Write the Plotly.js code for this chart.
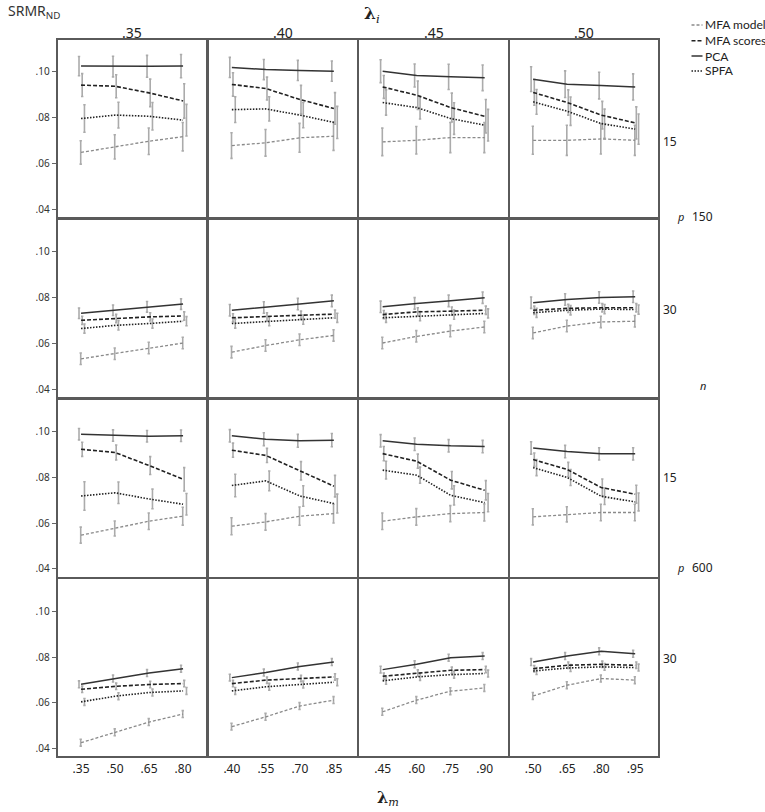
<!DOCTYPE html>
<html>
<head>
<meta charset="utf-8">
<script src="https://cdn.plot.ly/plotly-3.0.1.min.js"></script>
<style>html,body{margin:0;padding:0;background:#fff}#chart{width:765px;height:812px}</style>
</head>
<body>
<div id="chart"></div>
<script>
// ---- data ----
const lambdaIHeaders = ['.35', '.40', '.45', '.50'];
const lambdaM = [
  [0.35, 0.50, 0.65, 0.80],
  [0.40, 0.55, 0.70, 0.85],
  [0.45, 0.60, 0.75, 0.90],
  [0.50, 0.65, 0.80, 0.95]
];
const seriesNames = ['MFA model', 'MFA scores', 'PCA', 'SPFA'];
// rows: (n=150,p=15), (n=150,p=30), (n=600,p=15), (n=600,p=30); each row: 4 columns (lambda_i)
const mfaModel = [
  [[.0648,.0672,.0697,.0717],[.0678,.0690,.0712,.0719],[.0694,.0701,.0713,.0713],[.0701,.0701,.0707,.0701]],
  [[.0532,.0554,.0579,.0601],[.0561,.0590,.0615,.0634],[.0601,.0630,.0653,.0671],[.0645,.0675,.0693,.0696]],
  [[.0547,.0576,.0608,.0630],[.0586,.0605,.0630,.0641],[.0608,.0627,.0641,.0646],[.0627,.0638,.0646,.0646]],
  [[.0426,.0471,.0516,.0551],[.0496,.0539,.0586,.0612],[.0561,.0612,.0651,.0665],[.0630,.0677,.0706,.0699]]
];
const mfaScores = [
  [[.0942,.0937,.0908,.0873],[.0945,.0927,.0879,.0840],[.0934,.0898,.0844,.0806],[.0910,.0866,.0811,.0777]],
  [[.0700,.0708,.0715,.0719],[.0711,.0715,.0722,.0727],[.0725,.0737,.0740,.0744],[.0744,.0752,.0755,.0755]],
  [[.0922,.0908,.0851,.0791],[.0918,.0895,.0828,.0761],[.0903,.0870,.0787,.0743],[.0877,.0834,.0755,.0726]],
  [[.0659,.0672,.0680,.0684],[.0684,.0699,.0706,.0713],[.0716,.0730,.0742,.0745],[.0749,.0764,.0768,.0764]]
];
const pca = [
  [[.1025,.1023,.1024,.1025],[.1019,.1010,.1006,.1003],[.1003,.0984,.0978,.0974],[.0968,.0946,.0940,.0934]],
  [[.0731,.0744,.0759,.0771],[.0744,.0756,.0771,.0785],[.0759,.0774,.0785,.0799],[.0777,.0791,.0800,.0803]],
  [[.0988,.0982,.0979,.0981],[.0981,.0966,.0959,.0962],[.0959,.0944,.0937,.0934],[.0928,.0912,.0902,.0902]],
  [[.0681,.0706,.0730,.0749],[.0710,.0732,.0759,.0778],[.0745,.0768,.0797,.0804],[.0778,.0804,.0825,.0814]]
];
const spfa = [
  [[.0796,.0811,.0806,.0789],[.0835,.0838,.0811,.0779],[.0866,.0844,.0796,.0767],[.0869,.0828,.0774,.0750]],
  [[.0664,.0678,.0686,.0696],[.0686,.0696,.0703,.0711],[.0711,.0718,.0725,.0730],[.0733,.0744,.0749,.0747]],
  [[.0718,.0732,.0705,.0682],[.0764,.0784,.0718,.0685],[.0831,.0809,.0721,.0689],[.0842,.0799,.0717,.0692]],
  [[.0604,.0629,.0645,.0652],[.0652,.0670,.0680,.0690],[.0696,.0713,.0723,.0728],[.0739,.0752,.0757,.0754]]
];
// half-widths of the error bars
const mfaModelErr = [
  [[.0051,.0053,.0058,.0062],[.0056,.0058,.0063,.0062],[.0060,.0060,.0066,.0066],[.0061,.0066,.0066,.0066]],
  [[.0025,.0025,.0025,.0025],[.0025,.0025,.0025,.0025],[.0025,.0025,.0025,.0025],[.0025,.0025,.0025,.0025]],
  [[.0035,.0033,.0036,.0039],[.0037,.0036,.0040,.0041],[.0036,.0036,.0035,.0037],[.0035,.0033,.0036,.0036]],
  [[.0015,.0015,.0015,.0015],[.0015,.0015,.0015,.0015],[.0015,.0015,.0015,.0015],[.0015,.0015,.0015,.0015]]
];
const mfaScoresErr = [
  [[.0050,.0050,.0060,.0075],[.0051,.0050,.0062,.0069],[.0050,.0062,.0063,.0073],[.0056,.0055,.0060,.0070]],
  [[.0018,.0018,.0018,.0018],[.0018,.0018,.0018,.0018],[.0018,.0018,.0018,.0018],[.0018,.0018,.0018,.0018]],
  [[.0031,.0033,.0039,.0051],[.0031,.0031,.0040,.0047],[.0031,.0031,.0038,.0042],[.0029,.0031,.0037,.0039]],
  [[.0014,.0014,.0014,.0014],[.0014,.0014,.0014,.0014],[.0014,.0014,.0014,.0014],[.0014,.0014,.0014,.0014]]
];
const pcaErr = [
  [[.0042,.0045,.0048,.0051],[.0044,.0044,.0044,.0044],[.0050,.0050,.0055,.0056],[.0054,.0058,.0058,.0057]],
  [[.0023,.0023,.0023,.0023],[.0025,.0025,.0025,.0025],[.0025,.0025,.0025,.0025],[.0025,.0025,.0025,.0025]],
  [[.0025,.0025,.0025,.0025],[.0027,.0028,.0028,.0029],[.0027,.0027,.0027,.0027],[.0027,.0027,.0027,.0027]],
  [[.0015,.0015,.0015,.0015],[.0015,.0015,.0015,.0015],[.0015,.0015,.0015,.0015],[.0015,.0015,.0015,.0015]]
];
const spfaErr = [
  [[.0060,.0056,.0060,.0069],[.0056,.0053,.0055,.0070],[.0055,.0050,.0069,.0069],[.0054,.0062,.0063,.0066]],
  [[.0020,.0020,.0020,.0020],[.0020,.0020,.0020,.0020],[.0020,.0020,.0020,.0020],[.0020,.0020,.0020,.0020]],
  [[.0062,.0047,.0043,.0047],[.0049,.0043,.0045,.0041],[.0039,.0035,.0042,.0040],[.0035,.0035,.0036,.0039]],
  [[.0015,.0015,.0015,.0015],[.0015,.0015,.0015,.0015],[.0015,.0015,.0015,.0015],[.0015,.0015,.0015,.0015]]
];
const yTickVals = [0.04, 0.06, 0.08, 0.10];
const yTickText = ['.04', '.06', '.08', '.10'];
const rowPLabels = ['15', '30', '15', '30'];
const nLabels = ['150', '600'];

// ---- layout helpers ----
const W = 765, H = 812;
const px = x => x / W;
const py = y => 1 - y / H;
const colLeft = [57.7, 208.5, 359.3, 509.8], colW = 148.5;
const rowTop = [40, 219.8, 399.6, 579.4], rowH = 177;

const styles = [
  {name: 'MFA model', data: mfaModel, err: mfaModelErr, line: {color: '#8a8a8a', width: 1.3, dash: '3px,2px'}, off: -0.0015},
  {name: 'MFA scores', data: mfaScores, err: mfaScoresErr, line: {color: '#222', width: 1.6, dash: '4px,2px'}, off: 0.005},
  {name: 'PCA', data: pca, err: pcaErr, line: {color: '#333', width: 1.5}, off: -0.009},
  {name: 'SPFA', data: spfa, err: spfaErr, line: {color: '#222', width: 1.6, dash: '1.5px,1.5px'}, off: 0.015}
];

const traces = [];
const layout = {
  width: W, height: H,
  margin: {l: 0, r: 0, t: 0, b: 0},
  paper_bgcolor: '#fff', plot_bgcolor: '#fff',
  showlegend: false, hovermode: false,
  font: {family: 'Noto Sans, Open Sans, sans-serif', color: '#222'},
  annotations: [], shapes: []
};

for (let r = 0; r < 4; r++) {
  for (let c = 0; c < 4; c++) {
    const k = r * 4 + c + 1;
    const xs = lambdaM[c];
    const xa = 'xaxis' + (k === 1 ? '' : k), ya = 'yaxis' + (k === 1 ? '' : k);
    const xr = 'x' + (k === 1 ? '' : k), yr = 'y' + (k === 1 ? '' : k);
    layout[xa] = {
      domain: [px(colLeft[c]), px(colLeft[c] + colW)],
      anchor: yr,
      range: [xs[0] - 0.103, xs[3] + 0.102],
      showgrid: false, zeroline: false,
      showline: true, mirror: true, linecolor: '#5a5a5a', linewidth: 2,
      ticks: '', tickvals: xs, ticktext: xs.map(v => v.toFixed(2).replace(/^0/, '')),
      showticklabels: r === 3,
      tickfont: {size: 12, color: '#222'}
    };
    layout[ya] = {
      domain: [py(rowTop[r] + rowH), py(rowTop[r])],
      anchor: xr,
      range: [0.0366, 0.1139],
      showgrid: false, zeroline: false,
      showline: true, mirror: true, linecolor: '#5a5a5a', linewidth: 2,
      ticks: c === 0 ? 'outside' : '', ticklen: 4, tickcolor: '#666', tickwidth: 1,
      tickvals: yTickVals, ticktext: yTickText,
      showticklabels: c === 0,
      tickfont: {size: 10, color: '#333'}
    };
    // error bars (dodged)
    styles.forEach(s => {
      traces.push({
        type: 'scatter', mode: 'markers', xaxis: xr, yaxis: yr,
        x: xs.map(v => v + s.off), y: s.data[r][c],
        marker: {size: 1, color: 'rgba(0,0,0,0)'},
        error_y: {type: 'data', array: s.err[r][c], visible: true, color: '#ababab', thickness: 1.6, width: 1.2}
      });
    });
    // lines
    styles.forEach(s => {
      traces.push({
        type: 'scatter', mode: 'lines', xaxis: xr, yaxis: yr,
        x: xs, y: s.data[r][c], name: s.name,
        line: Object.assign({shape: 'linear'}, s.line)
      });
    });
  }
}

// column headers
lambdaIHeaders.forEach((t, c) => {
  layout.annotations.push({
    xref: 'paper', yref: 'paper', x: px(colLeft[c] + colW / 2), y: py(33),
    text: t, showarrow: false, xanchor: 'center', yanchor: 'middle',
    font: {size: 14, color: '#222'}
  });
});
// top titles
layout.annotations.push({
  xref: 'paper', yref: 'paper', x: px(6), y: py(12), xanchor: 'left', yanchor: 'middle',
  text: 'SRMR<sub>ND</sub>', showarrow: false, font: {size: 14, color: '#333'}
});
layout.annotations.push({
  xref: 'paper', yref: 'paper', x: px(372), y: py(14), xanchor: 'center', yanchor: 'middle',
  text: '<b>λ</b><sub><i>i</i></sub>', showarrow: false,
  font: {size: 17, color: '#222', family: 'DejaVu Serif, Liberation Serif, serif'}
});
layout.annotations.push({
  xref: 'paper', yref: 'paper', x: px(388), y: py(811), xanchor: 'center', yanchor: 'bottom',
  text: '<b>λ</b><sub><i>m</i></sub>', showarrow: false,
  font: {size: 16, color: '#222', family: 'DejaVu Serif, Liberation Serif, serif'}
});
// right side row labels
const pY = [142, 309, 477, 658];
rowPLabels.forEach((t, r) => {
  layout.annotations.push({
    xref: 'paper', yref: 'paper', x: px(661), y: py(pY[r]), xanchor: 'left', yanchor: 'middle',
    text: t, showarrow: false, font: {size: 12, color: '#222'}
  });
});
const nY = [217, 567];
nLabels.forEach((t, i) => {
  layout.annotations.push({
    xref: 'paper', yref: 'paper', x: px(675), y: py(nY[i]), xanchor: 'left', yanchor: 'middle',
    text: '<i>p</i>', showarrow: false, font: {size: 11, color: '#222'}
  });
  layout.annotations.push({
    xref: 'paper', yref: 'paper', x: px(690), y: py(nY[i]), xanchor: 'left', yanchor: 'middle',
    text: t, showarrow: false, font: {size: 12, color: '#222'}
  });
});
layout.annotations.push({
  xref: 'paper', yref: 'paper', x: px(703), y: py(385), xanchor: 'center', yanchor: 'middle',
  text: '<i>n</i>', showarrow: false, font: {size: 11, color: '#222'}
});

// legend (manual)
const legY = [25, 40.7, 56, 71];
styles.forEach((s, i) => {
  layout.shapes.push({
    type: 'line', xref: 'paper', yref: 'paper',
    x0: px(691.5), x1: px(702.5), y0: py(legY[i]), y1: py(legY[i]),
    line: {color: s.line.color, width: s.line.width, dash: s.line.dash || 'solid'}
  });
  layout.annotations.push({
    xref: 'paper', yref: 'paper', x: px(703), y: py(legY[i]), xanchor: 'left', yanchor: 'middle',
    text: s.name, showarrow: false, font: {size: 12, color: '#222', family: 'Lato, Noto Sans, sans-serif'}
  });
});

Plotly.newPlot('chart', traces, layout, {staticPlot: true, displayModeBar: false});
</script>
</body>
</html>
